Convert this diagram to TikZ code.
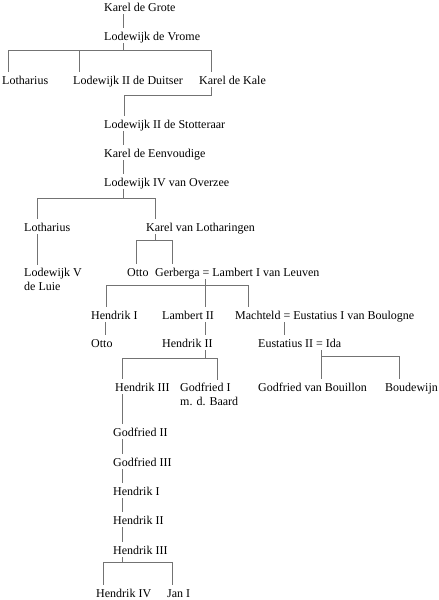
\documentclass[tikz,border=0pt]{standalone}
\usepackage{fontspec}
\setmainfont{Liberation Serif}
\begin{document}
\begin{tikzpicture}[x=1pt,y=-1pt,
  nm/.style={anchor=base west, inner xsep=0pt, inner ysep=2.5pt, text height=9.5pt, text depth=0.5pt, font=\fontsize{12}{14}\selectfont},
  nmtwo/.style={anchor=base west, inner xsep=0pt, inner ysep=2.5pt, align=left, font=\fontsize{12}{14}\selectfont},
  ln/.style={draw=black!55, line width=0.7pt}]
\fill[white] (0,0) rectangle (439,600);
\useasboundingbox (0,0) rectangle (439,600);
% nodes
\node[nm] (kg) at (104,11) {Karel de Grote};
\node[nm] (ldv) at (104,40) {Lodewijk de Vrome};
\node[nm] (loth1) at (2,84) {Lotharius};
\node[nm] (ldd) at (73,84) {Lodewijk II de Duitser};
\node[nm] (kdk) at (199,84) {Karel de Kale};
\node[nm] (lds) at (104,128) {Lodewijk II de Stotteraar};
\node[nm] (kde) at (104,157) {Karel de Eenvoudige};
\node[nm] (lvo) at (104,186) {Lodewijk IV van Overzee};
\node[nm] (loth2) at (24,231) {Lotharius};
\node[nm] (kvl) at (146,231) {Karel van Lotharingen};
\node[nmtwo] (lvl) at (24,290) {Lodewijk V\\de Luie};
\node[nm] (otto1) at (127,276) {Otto};
\node[nm] (gerb) at (155,276) {Gerberga = Lambert I van Leuven};
\node[nm] (hi1) at (91,319) {Hendrik I};
\node[nm] (lii) at (162,319) {Lambert II};
\node[nm] (mach) at (235,319) {Machteld = Eustatius I van Boulogne};
\node[nm] (otto2) at (91,347) {Otto};
\node[nm] (hii1) at (162,347) {Hendrik II};
\node[nm] (eii) at (258,347) {Eustatius II = Ida};
\node[nm] (hiii1) at (115,391) {Hendrik III};
\node[nmtwo] (gi) at (180,405) {Godfried I\\m. d. Baard};
\node[nm] (gvb) at (258,391) {Godfried van Bouillon};
\node[nm] (boud) at (385,391) {Boudewijn};
\node[nm] (gii) at (113,436) {Godfried II};
\node[nm] (giii) at (113,466) {Godfried III};
\node[nm] (hi2) at (113,495) {Hendrik I};
\node[nm] (hii2) at (113,524) {Hendrik II};
\node[nm] (hiii2) at (113,554) {Hendrik III};
\node[nm] (hiv) at (96,597) {Hendrik IV};
\node[nm] (jan) at (167,597) {Jan I};
% bar levels
\coordinate (b1) at (0,50);
\coordinate (b2) at (0,95);
\coordinate (b3) at (0,198);
\coordinate (b4) at (0,240);
\coordinate (b5) at (0,285);
\coordinate (b6) at (0,358);
\coordinate (b7) at (0,356);
\coordinate (b8) at (0,562);
% connectors
\draw[ln] (kg.south -| 123,0) -- (ldv.north -| 123,0);
\draw[ln] (ldv.south -| 123,0) -- (b1 -| 123,0);
\draw[ln] (loth1.north -| 8,0) |- (b1 -| 211,0) -- (kdk.north -| 211,0);
\draw[ln] (b1 -| 79,0) -- (ldd.north -| 79,0);
\draw[ln] (kdk.south -| 211,0) |- (b2 -| 124,0) -- (lds.north -| 124,0);
\draw[ln] (lds.south -| 123,0) -- (kde.north -| 123,0);
\draw[ln] (kde.south -| 123,0) -- (lvo.north -| 123,0);
\draw[ln] (lvo.south -| 123,0) -- (b3 -| 123,0);
\draw[ln] (loth2.north -| 37,0) |- (b3 -| 155,0) -- (kvl.north -| 155,0);
\draw[ln] (loth2.south -| 37,0) -- (lvl.north -| 37,0);
\draw[ln] (kvl.south -| 155,0) -- (b4 -| 155,0);
\draw[ln] (otto1.north -| 136,0) |- (b4 -| 172,0) -- (gerb.north -| 172,0);
\draw[ln] (gerb.south -| 205,0) -- (lii.north -| 205,0);
\draw[ln] (hi1.north -| 106,0) |- (b5 -| 248,0) -- (mach.north -| 248,0);
\draw[ln] (hi1.south -| 105,0) -- (otto2.north -| 105,0);
\draw[ln] (lii.south -| 205,0) -- (hii1.north -| 205,0);
\draw[ln] (mach.south -| 284,0) -- (eii.north -| 284,0);
\draw[ln] (hii1.south -| 205,0) -- (b6 -| 205,0);
\draw[ln] (hiii1.north -| 122,0) |- (b6 -| 217,0) -- (gi.north -| 217,0);
\draw[ln] (eii.south -| 321,0) -- (gvb.north -| 321,0);
\draw[ln] (b7 -| 321,0) -- (b7 -| 399,0) -- (boud.north -| 399,0);
\draw[ln] (hiii1.south -| 122,0) -- (gii.north -| 122,0);
\draw[ln] (gii.south -| 122,0) -- (giii.north -| 122,0);
\draw[ln] (giii.south -| 122,0) -- (hi2.north -| 122,0);
\draw[ln] (hi2.south -| 122,0) -- (hii2.north -| 122,0);
\draw[ln] (hii2.south -| 122,0) -- (hiii2.north -| 122,0);
\draw[ln] (hiii2.south -| 122,0) -- (b8 -| 122,0);
\draw[ln] (hiv.north -| 103,0) |- (b8 -| 172,0) -- (jan.north -| 172,0);
\end{tikzpicture}
\end{document}
